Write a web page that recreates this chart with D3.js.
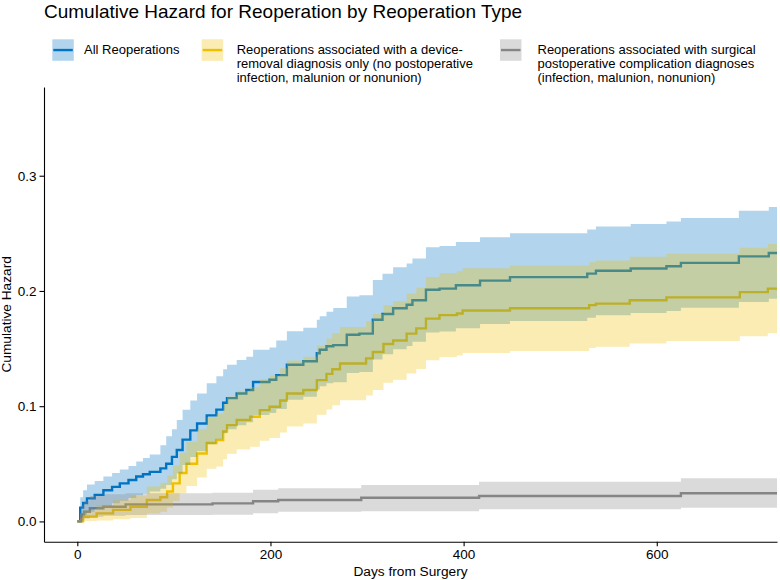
<!DOCTYPE html>
<html>
<head>
<meta charset="utf-8">
<script src="https://cdn.jsdelivr.net/npm/d3@7"></script>
<style>
  html, body { margin: 0; padding: 0; background: #ffffff; }
  svg { display: block; font-family: "Liberation Sans", Arial, Helvetica, sans-serif; }
</style>
</head>
<body>
<svg id="chart" width="780" height="580"></svg>
<script>
// ---------------- DATA ----------------
const seriesNames = [
  "All Reoperations",
  "Reoperations associated with a device-removal diagnosis only (no postoperative infection, malunion or nonunion)",
  "Reoperations associated with surgical postoperative complication diagnoses (infection, malunion, nonunion)"
];
const legendLines = [
  ["All Reoperations"],
  ["Reoperations associated with a device-", "removal diagnosis only (no postoperative", "infection, malunion or nonunion)"],
  ["Reoperations associated with surgical", "postoperative complication diagnoses", "(infection, malunion, nonunion)"]
];
const seriesColors = ["#0073C2", "#EFC000", "#868686"];

// All reoperations
const allDays  = [0, 3, 6, 10, 18, 27, 36, 44, 53, 61, 68, 75, 86, 92, 98, 103, 109, 117, 124, 134, 144, 151, 155, 165, 175, 182, 199, 206, 217, 234, 248, 251, 258, 265, 279, 292, 306, 316, 327, 341, 347, 361, 375, 392, 417, 448, 528, 537, 573, 610, 625, 685, 716];
const allEst   = [0, .012, .016, .020, .023, .027, .030, .033, .036, .039, .041, .043, .046, .050, .056, .062, .071, .079, .085, .092, .097, .103, .107, .111, .114, .121, .123, .127, .136, .139, .146, .149, .152, .153, .162, .163, .175, .180, .185, .188, .192, .201, .202, .205, .209, .212, .215, .2175, .2195, .2215, .2244, .230, .233];
const allUpper = [0, .021, .027, .032, .035, .039, .042, .045, .048, .052, .055, .058, .066, .074, .080, .088, .097, .105, .111, .120, .126, .132, .136, .140, .143, .149, .151, .157, .165, .168, .175, .178, .182, .1853, .1952, .1963, .2095, .215, .2205, .2238, .2281, .238, .2391, .2424, .2467, .250, .2533, .256, .2582, .2603, .2634, .2696, .2728];
const allLower = [0, .003, .0055, .0083, .0105, .0134, .0157, .018, .0203, .0227, .0243, .0259, .0283, .0316, .0365, .0415, .049, .0558, .061, .067, .0713, .0765, .080, .0835, .0861, .0923, .0941, .0976, .1056, .1082, .1145, .1172, .1198, .1207, .1288, .1297, .1405, .145, .1495, .1522, .1559, .164, .1649, .1676, .1713, .174, .1767, .179, .1808, .1827, .1854, .1904, .1932];

// Device-removal only
const devDays  = [0, 6, 20, 37, 55, 72, 86, 93, 99, 106, 113, 124, 134, 144, 151, 155, 165, 179, 189, 199, 210, 217, 234, 248, 258, 264, 272, 299, 306, 317, 327, 341, 351, 361, 375, 393, 399, 448, 530, 537, 572, 610, 686, 715];
const devEst   = [0, .004, .007, .010, .0127, .0186, .021, .026, .033, .042, .050, .059, .068, .0706, .078, .0836, .088, .0908, .0966, .0995, .105, .111, .114, .1226, .128, .132, .137, .1415, .147, .154, .157, .163, .1675, .176, .179, .1805, .183, .185, .1877, .189, .192, .1944, .199, .202];
const devUpper = [0, .0094, .0142, .0186, .0224, .0303, .0335, .0399, .0486, .0596, .0692, .0799, .0904, .0935, .102, .1085, .1135, .1167, .1233, .1266, .1329, .1397, .143, .1527, .1588, .1632, .1688, .1738, .180, .1877, .1911, .1977, .2027, .2121, .2154, .217, .2198, .222, .225, .2264, .2297, .2323, .2374, .2407];
const devLower = [0, .0003, .0008, .0018, .003, .0069, .0085, .0121, .0174, .0244, .0308, .0381, .0456, .0477, .054, .0587, .0625, .0649, .0699, .0724, .0771, .0823, .085, .0925, .0972, .1008, .1052, .1092, .114, .1203, .1229, .1283, .1323, .1399, .1426, .144, .1462, .148, .1504, .1516, .1543, .1565, .1606, .1633];

// Surgical complications
const compDays  = [0, 4, 7, 13, 27, 50, 140, 182, 208, 294, 416, 625];
const compEst   = [0, .006, .0084, .0114, .0127, .0148, .0157, .0175, .0186, .0206, .022, .0244];
const compUpper = [0, .014, .018, .022, .0235, .0244, .0249, .0275, .0287, .0316, .0344, .0374];
const compLower = [0, .001, .0025, .004, .005, .0055, .0058, .007, .0084, .0088, .0105, .0119];

const xTicks = [0, 200, 400, 600];
const yTicks = [0, 0.1, 0.2, 0.3];
const xDomain = [-34.5, 724.5];
const yDomain = [-0.0176, 0.377];

const titleText = "Cumulative Hazard for Reoperation by Reoperation Type";
const xTitle = "Days from Surgery";
const yTitle = "Cumulative Hazard";

// ---------------- BUILD ----------------
function build(days, est, lo, hi) {
  const rows = days.map((d, i) => ({ day: d, est: est[i], lo: lo[i], hi: hi[i] }));
  const last = rows[rows.length - 1];
  rows.push({ day: xDomain[1] + 5, est: last.est, lo: last.lo, hi: last.hi });
  return rows;
}
const series = [
  build(allDays, allEst, allLower, allUpper),
  build(devDays, devEst, devLower, devUpper),
  build(compDays, compEst, compLower, compUpper)
];

const svg = d3.select("#chart");
const panel = { left: 44, right: 777, top: 87, bottom: 541.7 };

const x = d3.scaleLinear().domain(xDomain).range([panel.left, panel.right]);
const y = d3.scaleLinear().domain(yDomain).range([panel.bottom, panel.top]);

svg.append("defs").append("clipPath").attr("id", "clip")
  .append("rect")
  .attr("x", panel.left).attr("y", panel.top)
  .attr("width", panel.right - panel.left).attr("height", panel.bottom - panel.top);

const plot = svg.append("g").attr("clip-path", "url(#clip)");

const line = d3.line().curve(d3.curveStepAfter).x(d => x(d.day)).y(d => y(d.est));
const area = d3.area().curve(d3.curveStepAfter).x(d => x(d.day)).y0(d => y(d.lo)).y1(d => y(d.hi));

// step lines first
series.forEach((s, i) => {
  plot.append("path").datum(s)
    .attr("d", line)
    .attr("fill", "none")
    .attr("stroke", seriesColors[i])
    .attr("stroke-width", 2.4)
    .attr("stroke-linejoin", "miter");
});
// confidence ribbons on top
series.forEach((s, i) => {
  plot.append("path").datum(s)
    .attr("d", area)
    .attr("fill", seriesColors[i])
    .attr("fill-opacity", 0.3)
    .attr("stroke", "none");
});

// axes
const xAxis = svg.append("g")
  .attr("transform", `translate(0,${panel.bottom})`)
  .call(d3.axisBottom(x).tickValues(xTicks).tickFormat(d3.format("d")).tickSize(4.5).tickSizeOuter(0).tickPadding(3));
const yAxis = svg.append("g")
  .attr("transform", `translate(${panel.left},0)`)
  .call(d3.axisLeft(y).tickValues(yTicks).tickFormat(d3.format(".1f")).tickSize(4.5).tickSizeOuter(0).tickPadding(3));

[xAxis, yAxis].forEach(g => {
  g.select(".domain").attr("stroke", "#000").attr("stroke-width", 1.1);
  g.selectAll(".tick line").attr("stroke", "#000").attr("stroke-width", 1.1);
  g.selectAll(".tick text").attr("fill", "#000")
    .style("font-family", '"Liberation Sans", Arial, sans-serif')
    .style("font-size", "13.5px");
});

// axis titles
svg.append("text")
  .attr("x", (panel.left + panel.right) / 2).attr("y", 576)
  .attr("text-anchor", "middle")
  .style("font-size", "13.7px").attr("fill", "#000")
  .text(xTitle);
svg.append("text")
  .attr("transform", `translate(11,${(panel.top + panel.bottom) / 2}) rotate(-90)`)
  .attr("text-anchor", "middle")
  .style("font-size", "13.7px").attr("fill", "#000")
  .text(yTitle);

// title
svg.append("text")
  .attr("x", 44).attr("y", 18)
  .style("font-size", "19px").attr("fill", "#000")
  .text(titleText);

// legend
const keyX = [52.3, 201.7, 500];
const textX = [84, 236.7, 537.5];
const keyY = 39.3, keySize = 21.5;
const legend = svg.append("g");
seriesNames.forEach((name, i) => {
  const g = legend.append("g");
  g.append("rect")
    .attr("x", keyX[i]).attr("y", keyY)
    .attr("width", keySize).attr("height", keySize)
    .attr("fill", seriesColors[i]).attr("fill-opacity", 0.3);
  g.append("line")
    .attr("x1", keyX[i] + 1).attr("x2", keyX[i] + keySize - 1)
    .attr("y1", keyY + keySize / 2).attr("y2", keyY + keySize / 2)
    .attr("stroke", seriesColors[i]).attr("stroke-width", 2.4);
  const t = g.append("text")
    .attr("x", textX[i]).attr("y", 53.7)
    .style("font-size", "13px").attr("fill", "#000");
  legendLines[i].forEach((ln, j) => {
    t.append("tspan").attr("x", textX[i]).attr("dy", j === 0 ? 0 : 14).text(ln);
  });
});
</script>
</body>
</html>
